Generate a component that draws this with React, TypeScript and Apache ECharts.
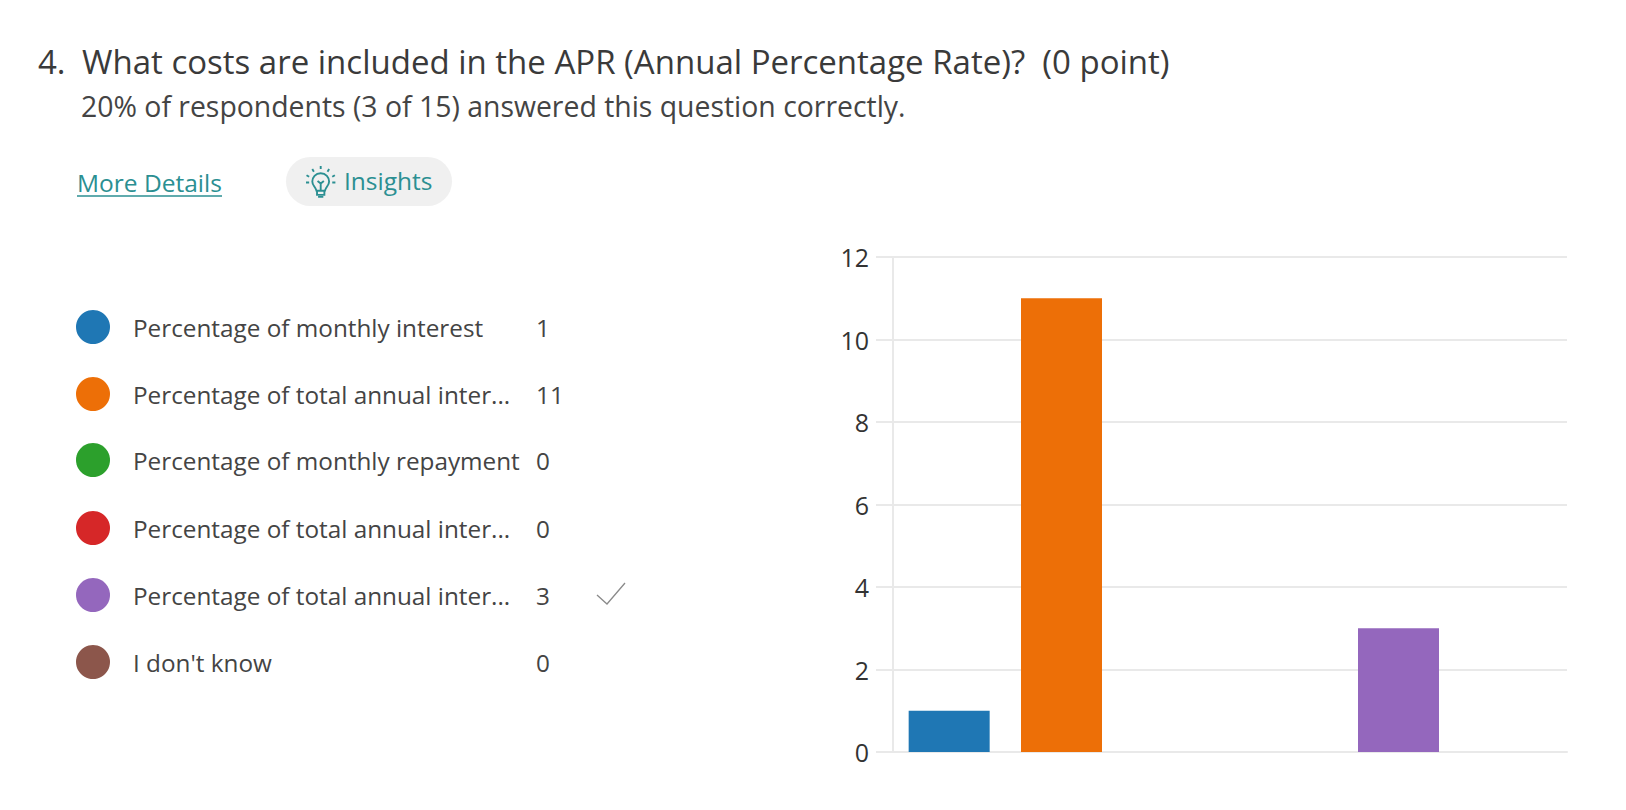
import React, { useEffect, useRef } from "react";
import * as echarts from "echarts";

const FONT = '"Open Sans", "Noto Sans", sans-serif';
const questionNumber = "4.";
const questionTitle = "What costs are included in the APR (Annual Percentage Rate)?  (0 point)";
const questionSub = "20% of respondents (3 of 15) answered this question correctly.";
const moreDetails = "More Details";
const insights = "Insights";
const categories = [
  "Percentage of monthly interest",
  "Percentage of total annual inter...",
  "Percentage of monthly repayment",
  "Percentage of total annual inter...",
  "Percentage of total annual inter...",
  "I don't know",
];
const counts = [1, 11, 0, 0, 3, 0];
const colors = ["#1f77b4", "#ed6f07", "#2ca02c", "#d62728", "#9467bd", "#8c564b"];

const bulbPath =
  "M14 7 C9 7 6 11 6 15 C6 19 9 20 10 24 L18 24 C19 20 22 19 22 15 C22 11 19 7 14 7 Z M10.5 24 L10.5 28 L17.5 28 L17.5 24 M11.5 30 L16.5 30 M14 24 L14 17 M11 14.5 L14 17 L17 14.5 " +
  "M14 0 L14 3 M6 3 L7.5 5.5 M22 3 L20.5 5.5 M0.5 9 L3 10.5 M27.5 9 L25 10.5 M0 16 L3 16 M28 16 L25 16";
echarts.graphic.registerShape("bulb", echarts.graphic.extendPath(bulbPath, {}) as any);

const rowY = [327, 394, 460, 528, 595, 662];

export default function App() {
  const ref = useRef<HTMLDivElement>(null);
  useEffect(() => {
    const chart = echarts.init(ref.current!, null, { renderer: "svg" });
    const teal = "#2b8f92";
    const lineColor = "#e9e9e9";
    const graphic: any[] = [
      { type: "text", x: 38, y: 61, style: { text: questionNumber, font: `33px ${FONT}`, fill: "#3a3a3a", textVerticalAlign: "middle" } },
      { type: "text", x: 82, y: 61, style: { text: questionTitle, font: `33px ${FONT}`, fill: "#3a3a3a", textVerticalAlign: "middle" } },
      { type: "text", x: 81, y: 106, style: { text: questionSub, font: `28.4px ${FONT}`, fill: "#444", textVerticalAlign: "middle" } },
      { type: "text", x: 77, y: 182, style: { text: moreDetails, font: `24.5px ${FONT}`, fill: teal, textVerticalAlign: "middle" } },
      { type: "line", shape: { x1: 77, y1: 196, x2: 222, y2: 196 }, style: { stroke: teal, lineWidth: 1.5 } },
      { type: "rect", shape: { x: 286, y: 157, width: 166, height: 49, r: 24.5 }, style: { fill: "#f0f0f0" } },
      { type: "bulb", x: 306, y: 166, scaleX: 1.05, scaleY: 1.03, style: { fill: "none", stroke: teal, lineWidth: 1.8 } },
      { type: "text", x: 344, y: 180, style: { text: insights, font: `24.5px ${FONT}`, fill: teal, textVerticalAlign: "middle" } },
    ];
    categories.forEach((c, i) => {
      graphic.push({ type: "circle", shape: { cx: 93, cy: rowY[i], r: 17 }, style: { fill: colors[i] } });
      graphic.push({ type: "text", x: 133, y: rowY[i], style: { text: c, font: `24.3px ${FONT}`, fill: "#444", textVerticalAlign: "middle" } });
      graphic.push({ type: "text", x: 536, y: rowY[i], style: { text: String(counts[i]), font: `24.3px ${FONT}`, fill: "#444", textVerticalAlign: "middle" } });
    });
    graphic.push({
      type: "polyline",
      shape: { points: [[597, 595], [607, 604], [625, 583]] },
      style: { stroke: "#8a8a8a", lineWidth: 1.3, fill: "none" },
    });
    chart.setOption({
      animation: false,
      backgroundColor: "#fff",
      grid: { left: 893, right: 59, top: 257, bottom: 58, containLabel: false },
      xAxis: {
        type: "category",
        data: categories,
        axisLine: { show: true, lineStyle: { color: lineColor, width: 2 } },
        axisTick: { show: false },
        axisLabel: { show: false },
      },
      yAxis: {
        type: "value",
        min: 0,
        max: 12,
        interval: 2,
        axisLine: { show: true, lineStyle: { color: lineColor, width: 2 } },
        axisTick: { show: true, length: 17, lineStyle: { color: lineColor, width: 2 } },
        axisLabel: { color: "#333", fontFamily: FONT, fontSize: 25, margin: 24 },
        splitLine: { show: true, lineStyle: { color: lineColor, width: 2 } },
      },
      series: [
        {
          type: "bar",
          barWidth: 81,
          data: counts.map((v, i) => ({ value: v, itemStyle: { color: colors[i] } })),
        },
      ],
      graphic,
    });
    return () => chart.dispose();
  }, []);
  return <div ref={ref} style={{ position: "absolute", left: 0, top: 0, width: 1626, height: 810 }} />;
}
